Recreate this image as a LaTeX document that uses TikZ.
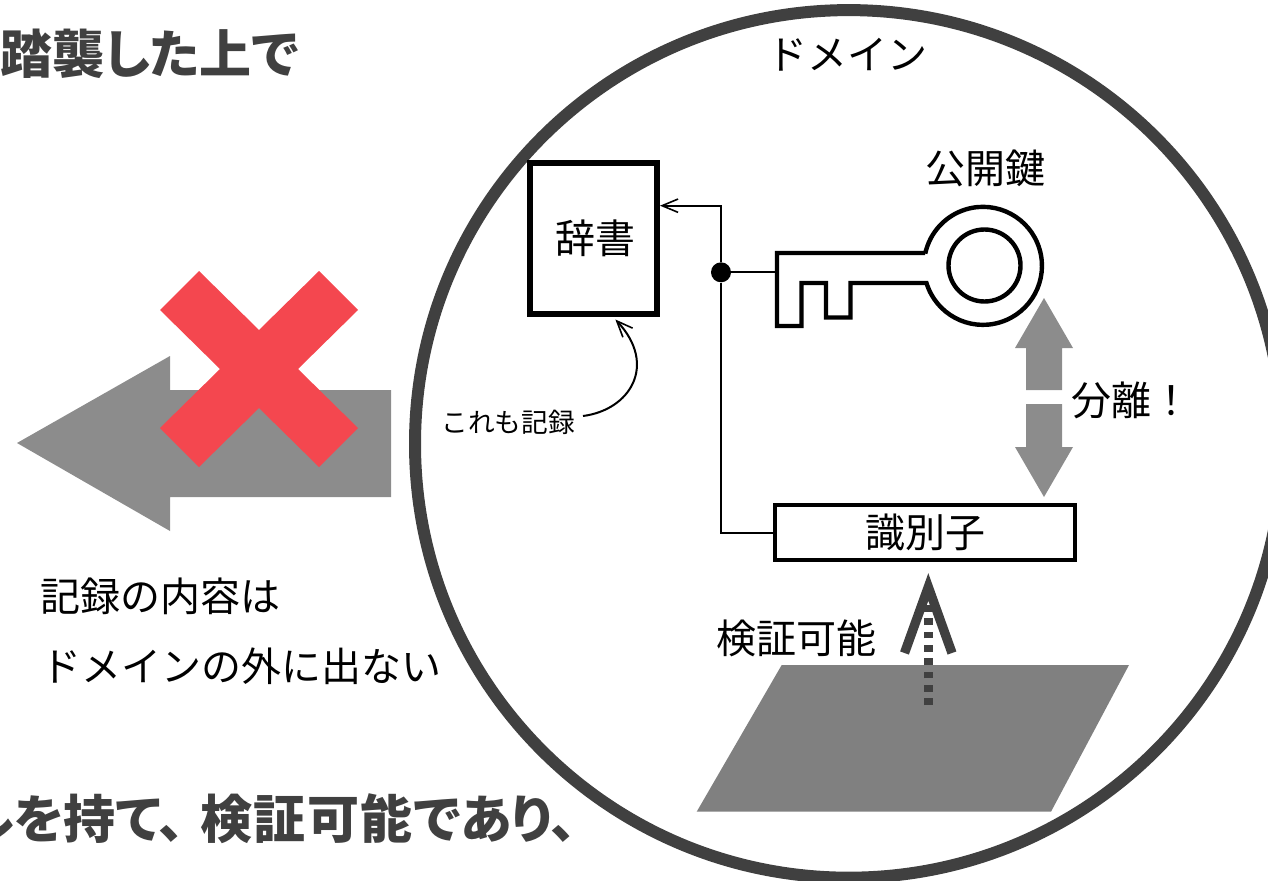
\documentclass[tikz,border=0pt]{standalone}
\usepackage{fontspec}
\setmainfont{Noto Sans CJK JP}
\newfontfamily\myheadfont[RawFeature=+palt]{Noto Sans CJK JP}
\usetikzlibrary{
  arrows.meta,
  positioning,
}
\definecolor{mydark}{HTML}{404040}
\definecolor{mygray}{HTML}{8C8C8C}
\definecolor{myplane}{HTML}{808080}
\definecolor{myred}{HTML}{F4474F}
\def\mysize#1{\fontsize{#1}{#1}\selectfont}
\def\mygap{\kern1pt}
\tikzset{
  my label/.style={
    inner sep=0mm,
    font=\mysize{30pt}
  },
  my small label/.style={
    my label,
    font=\mysize{20pt}
  },
  my headline/.style={
    inner sep=0mm,
    text=mydark,
    font=\myheadfont\mysize{39pt}\bfseries
  },
  my box/.style={
    my label,
    draw,
    rectangle
  },
  my wire/.style={
    line width=1.5pt,
    line join=miter
  },
  my arrow/.style={
    my wire,
    -{Straight Barb[length=12pt,width=10pt,line width=1.2pt]}
  },
  my block/.style={
    fill=mygray,
    draw=none
  },
  my key/.style={
    line width=3.3pt,
    fill=white
  }
}
\begin{document}
\begin{tikzpicture}[x=0.75pt,y=-0.75pt]
\clip (0,0) rectangle (1268,881);
% headlines, cut by the page
\node[my headline,anchor=west] (head1) at (0,54)  {踏襲した上で};
\node[my headline,anchor=west] (head2) at (-37,819)
  {ルを持て、\kern12pt 検\mygap 証\mygap 可\mygap 能\mygap であり、};
% arrow leaving the domain, crossed out
\path[my block] (17,443) -- (170,356) -- (170,390) -- (391,390)
  -- (391,497) -- (170,497) -- (170,531) -- cycle;
\path[fill=myred] (199,271) -- (259,330) -- (319,271) -- (358,310) -- (298,369)
  -- (358,428) -- (319,467) -- (259,408) -- (199,467) -- (160,428) -- (220,369)
  -- (160,310) -- cycle;
\node[my label,anchor=west] (rec1) at (40.5,596) {記録の内容は};
\node[my label,anchor=west] (rec2) at (41,666) {ドメインの外に出ない};
% domain
\draw[mydark,line width=9pt] (848.8,443.9) circle (433.8);
\node[my label] (domain) at (847.5,55) {ドメイン};
\node[my box,line width=4.5pt,minimum width=95.25pt,minimum height=113.25pt]
  (dict) at (593.5,238.5) {\kern3pt 辞書};
\node[my box,line width=3.3pt,minimum width=225pt,minimum height=41.25pt]
  (ident) at (925,532.5) {識別子};
\node[my label] (pubkey) at (985,168.5) {公開鍵};
\node[my label] (split) at (1131.5,400) {分離！};
\node[my label] (verify) at (796,638) {検証可能};
\node[my small label] (also) at (508,422) {これも記録};
% key
\draw[my key] (925,253) -- (777,253) -- (777,326) -- (801.5,326) -- (801.5,283)
  -- (826,283) -- (826,317.5) -- (850.5,317.5) -- (850.5,283) -- (926.5,283)
  arc[start angle=163.1,end angle=-168.0,radius=59];
\draw[line width=3.3pt] (984.5,265.5) circle (36);
\coordinate (keyend) at (775.5,272.3);
\coordinate (dictin) at (660,205.7);
\coordinate (alsoout) at (583,416);
\coordinate (dictbelow) at (615.4,319.5);
\node[circle,fill=black,inner sep=0mm,minimum size=15pt] (dot) at (721,272.3) {};
\draw[my wire] (dot) -- (keyend);
\draw[my wire] (ident.west) -| (dot);
\draw[my arrow] (dot) |- (dictin);
\draw[my arrow] (alsoout) .. controls (630,410) and (658,365) .. (dictbelow);
% separated arrows
\path[my block] (1044,298) -- (1073,348) -- (1062,348) -- (1062,390) -- (1026,390)
  -- (1026,348) -- (1015,348) -- cycle;
\path[my block] (1044,497) -- (1073,447) -- (1062,447) -- (1062,404) -- (1026,404)
  -- (1026,447) -- (1015,447) -- cycle;
% plane with the arrow on it
\path[fill=myplane] (781.7,665) -- (1129,665) -- (1051,811.7) -- (696.7,811.7) -- cycle;
\draw[mydark,line width=7pt,dash pattern=on 5pt off 5pt] (928.3,705) -- (928.3,604.5);
\draw[mydark,line width=7pt,miter limit=10] (904.5,653) -- (928.3,587) -- (952,653);
\end{tikzpicture}
\end{document}
